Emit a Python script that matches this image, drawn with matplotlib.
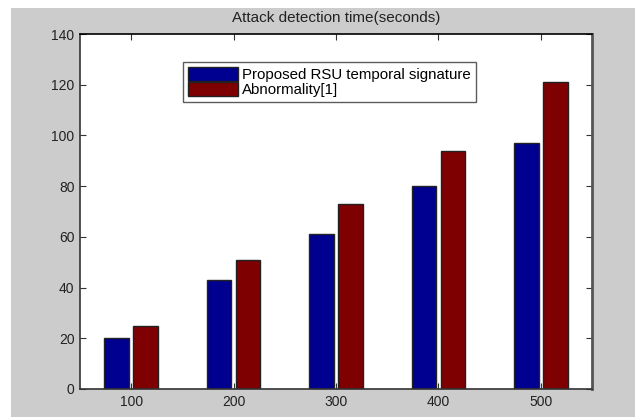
import numpy as np
import matplotlib
matplotlib.use("Agg")
import matplotlib.pyplot as plt
from matplotlib.patches import Rectangle

plt.rcParams["font.family"] = ["Liberation Sans", "DejaVu Sans"]

# Detection time per number of vehicles
categories = ["100", "200", "300", "400", "500"]
proposed = [20, 43, 61, 80, 97]
abnormality = [25, 51, 73, 94, 121]
series_names = ["Proposed RSU temporal signature", "Abnormality[1]"]

W, H = 635, 417
fig = plt.figure(figsize=(W / 100, H / 100), dpi=100)
fig.patch.set_facecolor("white")

# grey panel behind the plot
fig.patches.append(Rectangle((11 / W, 0), 1 - 11 / W, 1 - 8 / H,
                             transform=fig.transFigure, facecolor="#cccccc",
                             edgecolor="none", zorder=-1))

ax = fig.add_axes([80 / W, (H - 389) / H, 512 / W, 355 / H])
ax.set_facecolor("white")

x = np.arange(1, len(categories) + 1)
bw = 0.24
off = 0.142
ax.bar(x - off, proposed, bw, color="#000090", edgecolor="#222222",
       linewidth=1.0, label=series_names[0])
ax.bar(x + off, abnormality, bw, color="#7f0000", edgecolor="#222222",
       linewidth=1.0, label=series_names[1])

ax.set_xlim(0.5, 5.5)
ax.set_ylim(0, 140)
ax.set_xticks(x)
ax.set_xticklabels(categories)
ax.set_yticks(np.arange(0, 141, 20))
ax.tick_params(direction="in", length=4, width=0.8, color="#333333",
               top=True, right=True, labelsize=10, labelcolor="#222222", pad=4)

for side in ["left", "bottom"]:
    ax.spines[side].set_color("#333333")
    ax.spines[side].set_linewidth(1.2)
ax.spines["top"].set_color("black")
ax.spines["top"].set_linewidth(1.2)
ax.spines["right"].set_color("#555555")
ax.spines["right"].set_linewidth(2)

fig.text(0.5 * (80 + 592) / W, 1 - 18 / H, "Attack detection time(seconds)",
         ha="center", va="center", fontsize=11, color="#222222")

leg = ax.legend(loc="upper left", bbox_to_anchor=((183 - 80) / 512, (389 - 62) / 355),
                fontsize=10.8, frameon=True, fancybox=False, handlelength=3.3,
                handleheight=1.0, handletextpad=0.25, borderpad=0.35,
                labelspacing=0.0, borderaxespad=0)
leg.get_frame().set_edgecolor("#333333")
leg.get_frame().set_linewidth(1.0)

fig.savefig("out.png", dpi=100)
